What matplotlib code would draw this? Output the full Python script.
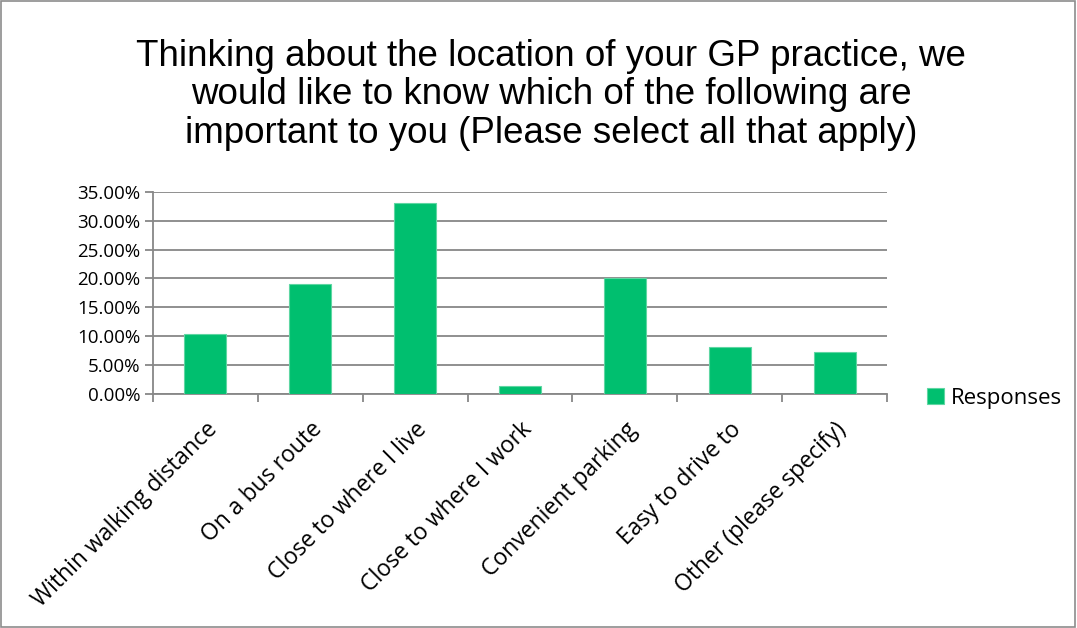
import matplotlib.pyplot as plt
from matplotlib.patches import Rectangle
from matplotlib.ticker import FuncFormatter, FixedLocator
import numpy as np

categories = ["Within walking distance", "On a bus route", "Close to where I live",
              "Close to where I work", "Convenient parking", "Easy to drive to",
              "Other (please specify)"]
responses = [0.103, 0.191, 0.331, 0.014, 0.201, 0.082, 0.072]

green = "#00BF6F"
grey = "#878787"

fig = plt.figure(figsize=(10.77, 6.28), dpi=100)
ax = fig.add_axes([0.142, 0.3726, 0.6816, 0.3221])

x = np.arange(len(categories))
bars = ax.bar(x, responses, width=0.4, color=green, edgecolor="#5fd6a3", linewidth=0.8,
              label="Responses", zorder=3)

ax.set_xlim(-0.5, len(categories) - 0.5)
ax.set_ylim(0, 0.35)
ax.set_yticks(np.arange(0, 0.351, 0.05))
ax.yaxis.set_major_formatter(FuncFormatter(lambda v, p: f"{v*100:.2f}%"))
ax.grid(axis="y", color=grey, linewidth=1.3, zorder=0)

# category labels at centres, tick marks at boundaries
ax.set_xticks(x)
ax.set_xticklabels(categories, rotation=45, ha="right", rotation_mode="anchor",
                   fontsize=16.5, family="Open Sans")
ax.tick_params(axis="x", length=0, pad=17)
ax.xaxis.set_minor_locator(FixedLocator(np.arange(-0.5, len(categories), 1)))
ax.tick_params(axis="x", which="minor", length=6, color=grey, width=1.3)
ax.tick_params(axis="y", length=6, color=grey, width=1.3, labelsize=13.5, pad=3)
for lab in ax.get_yticklabels():
    lab.set_family("Open Sans")

for s in ["top", "right"]:
    ax.spines[s].set_visible(False)
for s in ["left", "bottom"]:
    ax.spines[s].set_color(grey)
    ax.spines[s].set_linewidth(1.3)

fig.text(0.512, 0.849, "Thinking about the location of your GP practice, we\n"
         "would like to know which of the following are\n"
         "important to you (Please select all that apply)",
         ha="center", va="center", fontsize=26.5, family="Liberation Sans", linespacing=1.13)

leg = fig.legend(handles=[bars], labels=["Responses"], loc="center left",
                 bbox_to_anchor=(0.842, 0.366), frameon=False, handlelength=0.75,
                 handleheight=0.75, handletextpad=0.35, prop={"family": "Open Sans", "size": 16})

fig.patches.append(Rectangle((0.001, 0.001), 0.997, 0.997, transform=fig.transFigure,
                             fill=False, edgecolor="#8c8c8c", linewidth=1.2))

fig.savefig("out.png", dpi=100)
